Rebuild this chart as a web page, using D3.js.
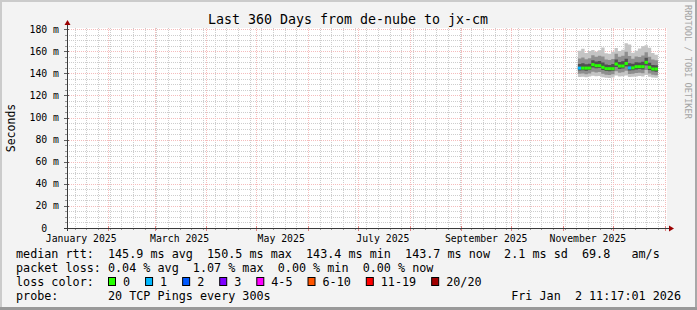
<!DOCTYPE html>
<html>
<head>
<meta charset="utf-8">
<script src="https://cdn.jsdelivr.net/npm/d3@7/dist/d3.min.js"></script>
<style>
	body { margin: 0; background: #f3f3f3; }
	svg text { font-family: "DejaVu Sans Mono", monospace; white-space: pre; }
</style>
</head>
<body>
<div id="chart"></div>
<script>

///////////////////////////////////////////////////////////////////////////
/////////////////////////////// The data //////////////////////////////////
///////////////////////////////////////////////////////////////////////////

var titleText = "Last 360 Days from de-nube to jx-cm";
var endTime = "2026-01-02T11:17:01Z";
var spanDays = 360;

var yTicks = [0, 20, 40, 60, 80, 100, 120, 140, 160, 180];
var yTickLabels = ["0  ", "20 m", "40 m", "60 m", "80 m", "100 m", "120 m", "140 m", "160 m", "180 m"];
var xLabelMonths = ["2025-01-01", "2025-03-01", "2025-05-01", "2025-07-01", "2025-09-01", "2025-11-01"];

//one sample every 2 days
var sampleDates = ["2025-11-10", "2025-11-12", "2025-11-14", "2025-11-16", "2025-11-18", "2025-11-20",
	"2025-11-22", "2025-11-24", "2025-11-26", "2025-11-28", "2025-11-30", "2025-12-02",
	"2025-12-04", "2025-12-06", "2025-12-08", "2025-12-10", "2025-12-12", "2025-12-14",
	"2025-12-16", "2025-12-18", "2025-12-20", "2025-12-22", "2025-12-24", "2025-12-26"];
var sampleEnd = "2025-12-28";

var medianRtt = [144.7, 144.7, 144.7, 144.7, 147.9, 146.9, 146.9, 145.4, 144.2, 144.2, 144.2, 148.4,
	146.6, 146.6, 148.9, 144.9, 144.9, 146.0, 146.0, 146.0, 149.9, 145.4, 143.9, 143.9];
var sampleLoss = [1, 0, 0, 0, 0, 0, 0, 0, 0, 0, 0, 0, 0, 0, 0, 1, 0, 0, 0, 0, 0, 0, 0, 0];

var pingMin = [136.6, 136.9, 136.4, 137.0, 137.8, 137.4, 137.6, 136.5, 135.9, 135.8, 136.3, 137.9,
	137.2, 137.4, 138.0, 136.6, 136.8, 137.2, 137.5, 137.0, 138.5, 136.9, 136.2, 136.0];
var pingP10 = [139.5, 139.8, 139.2, 139.9, 141.5, 140.8, 141.2, 139.6, 138.8, 138.5, 139.1, 141.9,
	140.5, 140.9, 142.3, 139.4, 139.6, 140.2, 140.5, 140.1, 143.0, 139.8, 138.6, 138.3];
var pingP25 = [142.5, 142.8, 142.3, 142.9, 145.2, 144.5, 144.8, 143.0, 142.0, 141.8, 142.2, 145.6,
	144.0, 144.3, 146.1, 142.6, 142.8, 143.5, 143.8, 143.4, 147.0, 143.0, 141.8, 141.5];
var pingP75 = [148.5, 149.0, 148.2, 148.6, 151.8, 150.6, 151.2, 149.8, 148.0, 147.6, 148.4, 152.5,
	150.3, 150.8, 153.2, 149.0, 148.6, 150.1, 149.8, 150.4, 154.0, 149.5, 147.6, 147.2];
var pingP90 = [153.5, 154.2, 152.8, 153.6, 156.4, 155.0, 155.8, 155.2, 152.6, 152.1, 153.0, 157.6,
	155.0, 155.8, 159.4, 155.6, 153.2, 155.1, 154.8, 156.0, 159.0, 155.0, 152.4, 151.8];
var pingMax = [160.5, 162.3, 158.4, 160.2, 161.0, 159.6, 160.8, 163.4, 158.2, 157.6, 159.5, 162.8,
	160.2, 161.4, 167.2, 166.1, 158.6, 160.5, 162.4, 164.5, 165.3, 163.1, 158.3, 156.8];

var medianStats = ["145.9 ms avg", "150.5 ms max", "143.4 ms min", "143.7 ms now", "2.1 ms sd", "69.8   am/s"];
var lossStats = ["0.04 % avg", "1.07 % max", "0.00 % min", "0.00 % now"];
var lossLabels = ["0", "1", "2", "3", "4-5", "6-10", "11-19", "20/20"];
var lossColors = ["#26ff00", "#00b8ff", "#0059ff", "#7e00ff", "#ff00ff", "#ff5500", "#ff0000", "#a10000"];
var probeText = "20 TCP Pings every 300s";
var stampText = "Fri Jan  2 11:17:01 2026";

///////////////////////////////////////////////////////////////////////////
//////////////////// Set up and initiate svg containers ///////////////////
///////////////////////////////////////////////////////////////////////////

var W = 697, H = 310;
var plot = { left: 67, right: 667, top: 28, bottom: 228 };

var svg = d3.select("#chart").append("svg")
	.attr("width", W)
	.attr("height", H);

//background and shaded frame
svg.append("rect").attr("width", W).attr("height", H).style("fill", "#f3f3f3");
svg.append("rect").attr("x", 0).attr("y", 0).attr("width", W).attr("height", 2).style("fill", "#cbcbcb");
svg.append("rect").attr("x", 0).attr("y", 0).attr("width", 2).attr("height", H).style("fill", "#cbcbcb");
svg.append("rect").attr("x", W - 2).attr("y", 0).attr("width", 2).attr("height", H).style("fill", "#a8a8a8");
svg.append("rect").attr("x", 0).attr("y", H - 3).attr("width", W).attr("height", 3).style("fill", "#999999");

//canvas
svg.append("rect")
	.attr("x", plot.left).attr("y", plot.top)
	.attr("width", plot.right - plot.left).attr("height", plot.bottom - plot.top)
	.style("fill", "#ffffff");

var end = new Date(endTime);
var start = d3.utcDay.offset(end, -spanDays);

var x = d3.scaleUtc().domain([start, end]).range([plot.left, plot.right]);
var y = d3.scaleLinear().domain([0, 181]).range([plot.bottom, plot.top]);

///////////////////////////////////////////////////////////////////////////
/////////////////////////////////// Grid //////////////////////////////////
///////////////////////////////////////////////////////////////////////////

var grid = svg.append("g").attr("class", "grid").attr("shape-rendering", "crispEdges");
var minorColor = "#cdcdcd", majorColor = "#f5bcbc";

//minor: weeks and every 5 ms
d3.utcSunday.range(start, end).forEach(function(d) {
	var xx = Math.round(x(d)) + 0.5;
	grid.append("line").attr("x1", xx).attr("x2", xx).attr("y1", plot.top).attr("y2", plot.bottom)
		.style("stroke", minorColor).style("stroke-dasharray", "1,1");
	grid.append("line").attr("x1", xx).attr("x2", xx).attr("y1", plot.bottom).attr("y2", plot.bottom + 2)
		.style("stroke", "#999");
});
d3.range(0, 181, 5).forEach(function(v) {
	var yy = Math.round(y(v)) + 0.5;
	grid.append("line").attr("x1", plot.left).attr("x2", plot.right).attr("y1", yy).attr("y2", yy)
		.style("stroke", minorColor).style("stroke-dasharray", "1,1");
	grid.append("line").attr("x1", plot.left - 2).attr("x2", plot.left).attr("y1", yy).attr("y2", yy)
		.style("stroke", "#999");
});

//major: month starts and labelled values
d3.utcMonth.range(start, end).forEach(function(d) {
	var xx = Math.round(x(d)) + 0.5;
	grid.append("line").attr("x1", xx).attr("x2", xx).attr("y1", plot.top).attr("y2", plot.bottom)
		.style("stroke", majorColor).style("stroke-dasharray", "1,1");
	grid.append("line").attr("x1", xx).attr("x2", xx).attr("y1", plot.bottom - 2).attr("y2", plot.bottom + 3)
		.style("stroke", "#e08080");
});
yTicks.forEach(function(v) {
	var yy = Math.round(y(v)) + 0.5;
	grid.append("line").attr("x1", plot.left).attr("x2", plot.right).attr("y1", yy).attr("y2", yy)
		.style("stroke", majorColor).style("stroke-dasharray", "1,1");
	grid.append("line").attr("x1", plot.left - 3).attr("x2", plot.left + 2).attr("y1", yy).attr("y2", yy)
		.style("stroke", "#606060");
});

///////////////////////////////////////////////////////////////////////////
/////////////////////////////// Smoke & median ////////////////////////////
///////////////////////////////////////////////////////////////////////////

var samples = sampleDates.map(function(d, i) {
	return {
		date: new Date(d + "T00:00:00Z"), med: medianRtt[i], loss: sampleLoss[i],
		min: pingMin[i], p10: pingP10[i], p25: pingP25[i], p75: pingP75[i], p90: pingP90[i], max: pingMax[i]
	};
});
//close the last step at the end of the sampled range
var stepped = samples.concat([Object.assign({}, samples[samples.length - 1], { date: new Date(sampleEnd + "T00:00:00Z") })]);

var smoke = svg.append("g").attr("class", "smoke");
var layers = [
	{ lo: "min", hi: "max", color: "#c4c4c4" },
	{ lo: "p10", hi: "p90", color: "#8e8e8e" },
	{ lo: "p25", hi: "p75", color: "#505050" }
];
layers.forEach(function(l) {
	smoke.append("path")
		.datum(stepped)
		.attr("d", d3.area()
			.curve(d3.curveStepAfter)
			.x(function(d) { return x(d.date); })
			.y0(function(d) { return y(d[l.lo]); })
			.y1(function(d) { return y(d[l.hi]); }))
		.style("fill", l.color);
});

//median, coloured by loss
svg.append("g").attr("class", "median")
	.selectAll("rect")
	.data(samples)
	.enter().append("rect")
	.attr("x", function(d) { return x(d.date); })
	.attr("width", function(d) { return x(d3.utcDay.offset(d.date, 2)) - x(d.date); })
	.attr("y", function(d) { return y(d.med) - 1.5; })
	.attr("height", 3)
	.style("fill", function(d) { return lossColors[d.loss]; });

///////////////////////////////////////////////////////////////////////////
/////////////////////////////////// Axes //////////////////////////////////
///////////////////////////////////////////////////////////////////////////

var axisColor = "#3a3a3a", arrowColor = "#9b0000";
svg.append("line").attr("x1", plot.left - 3).attr("x2", plot.right + 4)
	.attr("y1", plot.bottom + 0.5).attr("y2", plot.bottom + 0.5).style("stroke", axisColor);
svg.append("line").attr("x1", plot.left + 0.5).attr("x2", plot.left + 0.5)
	.attr("y1", plot.bottom + 3).attr("y2", plot.top - 4).style("stroke", axisColor);
svg.append("path")
	.attr("d", "M" + (plot.right + 2) + "," + (plot.bottom - 2.5) + "L" + (plot.right + 7) + "," + (plot.bottom + 0.5) + "L" + (plot.right + 2) + "," + (plot.bottom + 3.5) + "Z")
	.style("fill", arrowColor);
svg.append("path")
	.attr("d", "M" + (plot.left - 2.5) + "," + (plot.top - 3) + "L" + (plot.left + 0.5) + "," + (plot.top - 8) + "L" + (plot.left + 3.5) + "," + (plot.top - 3) + "Z")
	.style("fill", arrowColor);

//y labels
svg.append("g").selectAll("text")
	.data(yTicks)
	.enter().append("text")
	.attr("x", 59)
	.attr("y", function(d) { return y(d) + 3.5; })
	.attr("xml:space", "preserve")
	.style("text-anchor", "end")
	.style("font-size", "9.8px")
	.style("fill", "#000")
	.text(function(d, i) { return yTickLabels[i]; });

//x labels, centred half a month after the month start
svg.append("g").selectAll("text")
	.data(xLabelMonths)
	.enter().append("text")
	.attr("x", function(d) { return x(d3.utcDay.offset(new Date(d + "T00:00:00Z"), 15)); })
	.attr("y", 241.5)
	.style("text-anchor", "middle")
	.style("font-size", "9.8px")
	.style("fill", "#000")
	.text(function(d) { return d3.utcFormat("%B %Y")(new Date(d + "T00:00:00Z")); });

//title
svg.append("text")
	.attr("x", 348)
	.attr("y", 23.5)
	.style("text-anchor", "middle")
	.style("font-size", "13.3px")
	.style("fill", "#000")
	.text(titleText);

//vertical label
svg.append("text")
	.attr("transform", "translate(15,128) rotate(-90)")
	.style("text-anchor", "middle")
	.style("font-size", "11.5px")
	.style("fill", "#000")
	.text("Seconds");

//watermark
svg.append("text")
	.attr("transform", "translate(685,5) rotate(90)")
	.style("font-size", "8.6px")
	.style("fill", "#a4a4a4")
	.text("RRDTOOL / TOBI OETIKER");

///////////////////////////////////////////////////////////////////////////
////////////////////////////////// Legend /////////////////////////////////
///////////////////////////////////////////////////////////////////////////

var legendSize = 11.75, legendX = 16;
var charW = legendSize * 0.602;
var legend = svg.append("g").attr("class", "legend")
	.style("font-size", legendSize + "px")
	.style("fill", "#000");

legend.append("text").attr("x", legendX).attr("y", 258).attr("xml:space", "preserve")
	.text("median rtt:  " + medianStats.join("  "));
legend.append("text").attr("x", legendX).attr("y", 272).attr("xml:space", "preserve")
	.text("packet loss: " + lossStats.join("  "));
legend.append("text").attr("x", legendX).attr("y", 286).attr("xml:space", "preserve")
	.text("loss color:");
legend.append("text").attr("x", legendX).attr("y", 300).attr("xml:space", "preserve")
	.text("probe:       " + probeText);
legend.append("text").attr("x", 681).attr("y", 300).attr("xml:space", "preserve")
	.style("text-anchor", "end")
	.text(stampText);

var bx = 108;
lossLabels.forEach(function(lab, i) {
	legend.append("rect")
		.attr("x", bx + 0.5).attr("y", 277.5)
		.attr("width", 7).attr("height", 8)
		.style("fill", lossColors[i])
		.style("stroke", "#000");
	legend.append("text").attr("x", bx + 15).attr("y", 286).text(lab);
	bx += 30 + charW * lab.length;
});

</script>
</body>
</html>
